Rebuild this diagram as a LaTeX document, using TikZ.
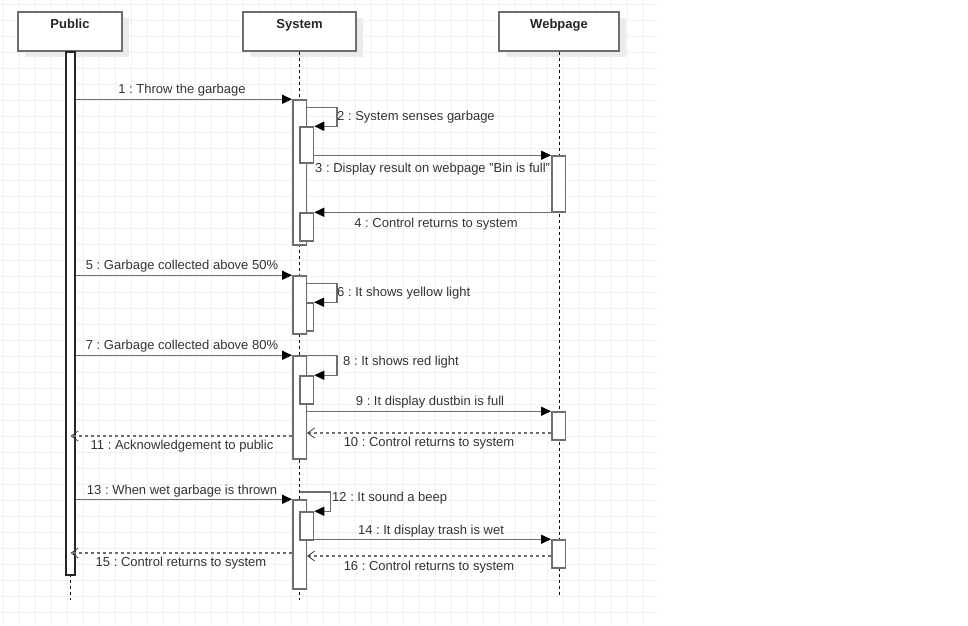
\documentclass[tikz,border=0pt]{standalone}
\usepackage{fontspec}
\setmainfont{Liberation Sans}
\usepackage{xcolor}
\usepackage{tikz}
\usetikzlibrary{positioning,arrows.meta}
\definecolor{gridgray}{HTML}{F1F1F1}
\definecolor{linegray}{HTML}{6E6E6E}
\definecolor{shadowgray}{HTML}{EBEBEB}
\definecolor{textgray}{HTML}{333333}
\frenchspacing

\begin{document}
\begin{tikzpicture}[x=1pt,y=-1pt,line join=miter]
  \tikzstyle{grid}=[draw=gridgray,line width=0.8pt]
  \tikzstyle{head}=[draw=linegray,line width=1.5pt,fill=white,minimum width=104pt,minimum height=39pt,inner sep=0pt,text height=16.6pt,text depth=22.4pt,font=\fontsize{13}{15}\selectfont\bfseries,text=black!85]
  \tikzstyle{life}=[draw=black,line width=0.8pt,dash pattern=on 3pt off 3pt]
  \tikzstyle{act}=[draw=linegray,line width=1.5pt,fill=white,minimum width=13.5pt,inner sep=0pt]
  \tikzstyle{msg}=[draw=linegray,line width=1.5pt,-{Triangle[length=10pt,width=9pt,color=black]}]
  \tikzstyle{ret}=[draw=linegray,line width=1.4pt,dash pattern=on 3pt off 3pt,-{Straight Barb[length=7pt,width=10pt,line width=0.8pt,color=black!75]}]
  \tikzstyle{lbl}=[inner sep=0pt,text height=9.3pt,text depth=0pt,font=\fontsize{13}{15}\selectfont,text=textgray]

  \useasboundingbox (0,0) rectangle (968,625);

  % background grid
  \foreach \i in {0,...,40}
    \draw[grid] (3.3+16*\i,0) -- (3.3+16*\i,625);
  \foreach \j in {0,...,38}
    \draw[grid] (0,4+16*\j) -- (657,4+16*\j);

  % lifeline heads
  \fill[shadowgray] (25,18) rectangle (129,57);
  \fill[shadowgray] (250,18) rectangle (363,57);
  \fill[shadowgray] (506,18) rectangle (626,57);
  \node[head] (pub) at (70,31.5) {Public};
  \node[head,minimum width=113pt] (sys) at (299.5,31.5) {System};
  \node[head,minimum width=120pt] (web) at (559,31.5) {Webpage};

  \coordinate (bot) at (0,600);
  \coordinate (botw) at (0,595);
  \draw[life] (pub.south) -- (pub.south |- bot);
  \draw[life] (sys.south) -- (sys.south |- bot);
  \draw[life] (web.south) -- (web.south |- botw);

  % activations
  \node[act,draw=black!85,line width=1.2pt,minimum width=9pt,minimum height=523pt] (pa) at (70.5,313.5) {};
  \node[act,minimum height=145pt] (s1) at (299.5,172.5) {};
  \node[act,minimum height=36pt] (s2) at (306.75,145) {};
  \node[act,minimum height=56pt] (w1) at (558.5,184) {};
  \node[act,minimum height=28pt] (s3) at (306.75,227) {};
  \node[act,minimum height=58pt] (s4) at (299.5,305) {};
  \node[act,minimum width=7pt,minimum height=28pt] (s5) at (309.75,317) {};
  \node[act,minimum height=103pt] (s6) at (299.5,407.5) {};
  \node[act,minimum height=28pt] (s7) at (306.75,390) {};
  \node[act,minimum height=28pt] (w2) at (558.5,426) {};
  \node[act,minimum height=89pt] (s8) at (299.5,544.5) {};
  \node[act,minimum height=28pt] (s9) at (306.75,526) {};
  \node[act,minimum height=28pt] (w3) at (558.5,554) {};

  % messages
  \coordinate (r10) at (0,433);
  \coordinate (r11) at (0,436);
  \coordinate (r12) at (0,492);
  \coordinate (r15) at (0,553);
  \coordinate (r16) at (0,556);

  \draw[msg] (pa.east |- s1.north) -- (s1.north west);
  \draw[msg] ([yshift=-8pt]s1.north east) -- ++(30,0) |- (s2.north east);
  \draw[msg] (s2.east |- w1.north) -- (w1.north west);
  \draw[msg] (w1.south |- s3.north) -- (s3.north east);
  \draw[msg] (pa.east |- s4.north) -- (s4.north west);
  \draw[msg] ([yshift=-8pt]s4.north east) -- ++(30,0) |- (s5.north east);
  \draw[msg] (pa.east |- s6.north) -- (s6.north west);
  \draw[msg] (s6.north east) -- ++(30,0) |- (s7.north east);
  \draw[msg] (s6.east |- w2.north) -- (w2.north west);
  \draw[ret] (w2.west |- r10) -- (s6.east |- r10);
  \draw[ret] (s6.west |- r11) -- (pa.center |- r11);
  \draw[msg] (sys.south |- r12) -- ++(31,0) |- (s9.north east);
  \draw[msg] (pa.east |- s8.north) -- (s8.north west);
  \draw[msg] (s9.east |- w3.north) -- (w3.north west);
  \draw[ret] (s8.west |- r15) -- (pa.center |- r15);
  \draw[ret] (w3.west |- r16) -- (s8.east |- r16);

  % labels
  \node[lbl] (l1) at (182,89) {1 : Throw the garbage};
  \node[lbl,anchor=west] (l2) at (337,116) {2 : System senses garbage};
  \node[lbl,anchor=west] (l3) at (315,168) {3 : Display result on webpage "Bin is full"};
  \node[lbl] (l4) at (436,223) {4 : Control returns to system};
  \node[lbl] (l5) at (182,265) {5 : Garbage collected above 50\%};
  \node[lbl,anchor=west] (l6) at (337,292) {6 : It shows yellow light};
  \node[lbl] (l7) at (182,345) {7 : Garbage collected above 80\%};
  \node[lbl,anchor=west] (l8) at (343,361) {8 : It shows red light};
  \node[lbl] (l9) at (430,401) {9 : It display dustbin is full};
  \node[lbl] (l10) at (429,442) {10 : Control returns to system};
  \node[lbl] (l11) at (182,445) {11 : Acknowledgement to public};
  \node[lbl,anchor=west] (l12) at (332,497) {12 : It sound a beep};
  \node[lbl] (l13) at (182,490) {13 : When wet garbage is thrown};
  \node[lbl] (l14) at (431,530) {14 : It display trash is wet};
  \node[lbl] (l15) at (181,562) {15 : Control returns to system};
  \node[lbl] (l16) at (429,566) {16 : Control returns to system};
\end{tikzpicture}
\end{document}
